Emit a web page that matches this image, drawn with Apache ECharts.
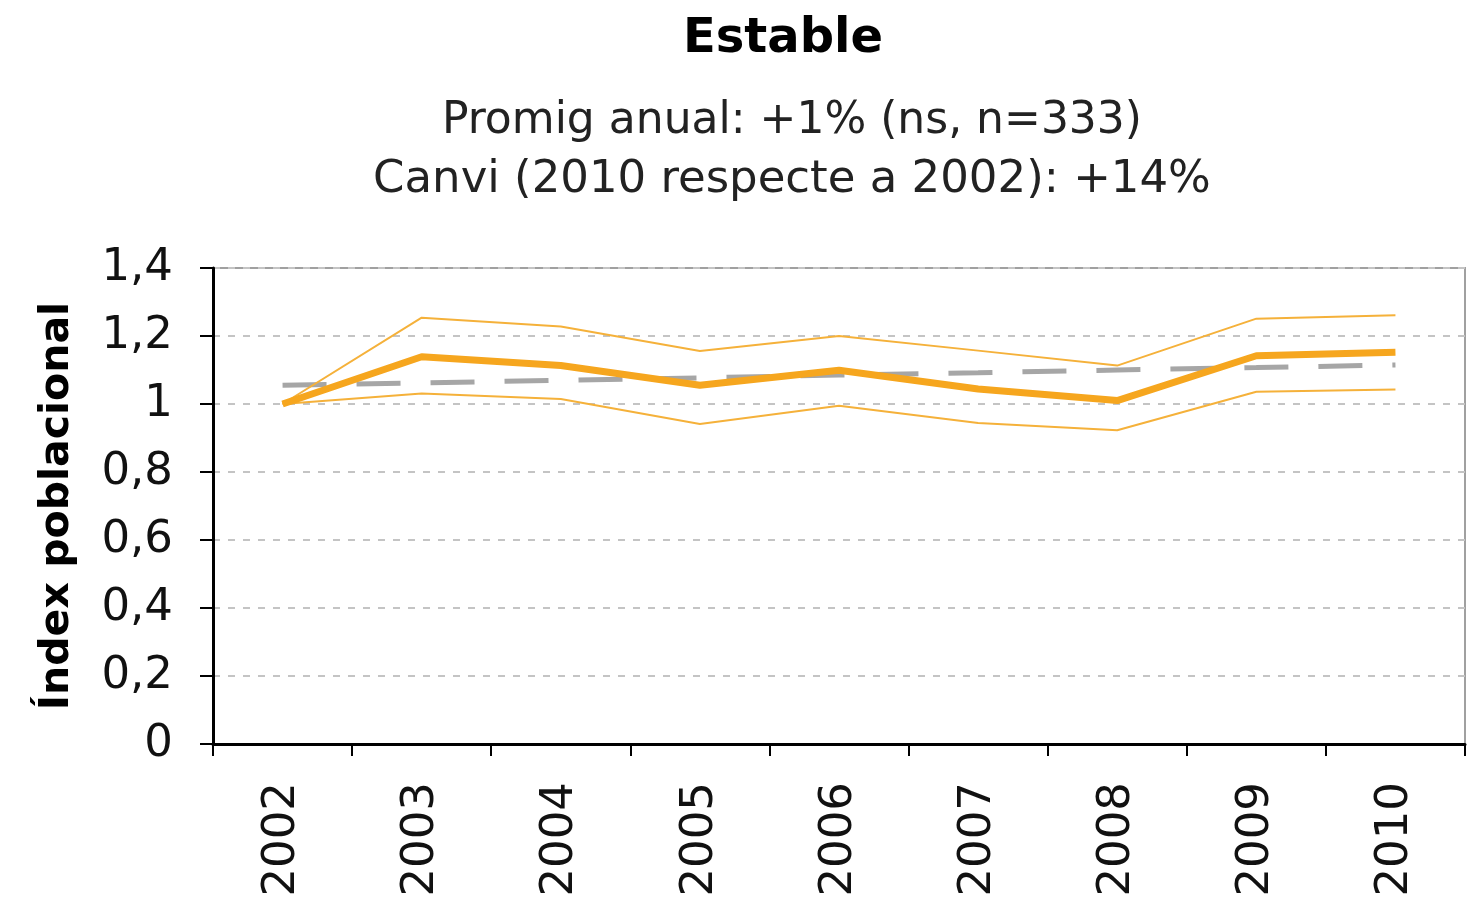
<!DOCTYPE html>
<html lang="ca">
<head>
    <meta charset="UTF-8">
    <title>Estable</title>
    <script src="https://cdn.jsdelivr.net/npm/echarts@6.0.0/dist/echarts.min.js"></script>
    <style>
        html, body { margin: 0; padding: 0; background: #fff; }
        #chart { width: 1478px; height: 906px; }
    </style>
</head>
<body>
<div id="chart"></div>
<script>
    // dades llegides del gràfic
    var years = ['2002', '2003', '2004', '2005', '2006', '2007', '2008', '2009', '2010'];
    var indexValues = [1.0, 1.139, 1.113, 1.055, 1.099, 1.044, 1.01, 1.142, 1.152];
    var upperValues = [1.0, 1.254, 1.228, 1.156, 1.2, 1.157, 1.113, 1.251, 1.261];
    var lowerValues = [1.0, 1.031, 1.015, 0.941, 0.995, 0.944, 0.923, 1.036, 1.043];
    var trendValues = [1.055, 1.062, 1.07, 1.077, 1.085, 1.092, 1.1, 1.107, 1.115];

    var titleText = 'Estable';
    var subLine1 = 'Promig anual: +1% (ns, n=333)';
    var subLine2 = 'Canvi (2010 respecte a 2002): +14%';

    var font = '"DejaVu Sans", Verdana, sans-serif';

    var myChart = echarts.init(document.getElementById('chart'));

    var option = {
        backgroundColor: '#fff',
        animation: false,
        graphic: [
            {
                type: 'text', x: 783, y: 40,
                style: { text: titleText, font: 'bold 48px ' + font, fill: '#000', textAlign: 'center', textVerticalAlign: 'middle' }
            },
            {
                type: 'text', x: 792, y: 122,
                style: { text: subLine1, font: '44px ' + font, fill: '#222', textAlign: 'center', textVerticalAlign: 'middle' }
            },
            {
                type: 'text', x: 792, y: 180,
                style: { text: subLine2, font: '45px ' + font, fill: '#222', textAlign: 'center', textVerticalAlign: 'middle' }
            }
        ],
        grid: {
            left: 213, right: 13, top: 268, bottom: 162,
            show: true, borderColor: '#a0a0a0', borderWidth: 2, backgroundColor: '#fff'
        },
        xAxis: {
            type: 'category',
            data: years,
            boundaryGap: true,
            axisLine: { lineStyle: { color: '#000', width: 3 } },
            axisTick: { show: true, length: 12, lineStyle: { color: '#000', width: 2 } },
            axisLabel: { rotate: 90, margin: 38, fontSize: 45, fontFamily: font, color: '#111' },
            splitLine: { show: false }
        },
        yAxis: {
            type: 'value',
            min: 0, max: 1.4, interval: 0.2,
            name: 'Índex poblacional',
            nameLocation: 'middle',
            nameGap: 135,
            nameTextStyle: { fontSize: 41, fontWeight: 'bold', fontFamily: font, color: '#000' },
            axisLine: { show: true, lineStyle: { color: '#000', width: 3 } },
            axisTick: { show: true, length: 13, lineStyle: { color: '#000', width: 2 } },
            axisLabel: {
                margin: 40, fontSize: 45, fontFamily: font, color: '#111',
                formatter: function (v) { return String(+v.toFixed(1)).replace('.', ','); }
            },
            splitLine: { show: true, lineStyle: { color: '#c4c4c4', width: 2, type: [7, 8] } }
        },
        series: [
            {
                name: 'tendència', type: 'line', data: trendValues, symbol: 'none', z: 2,
                lineStyle: { color: '#a6a6a6', width: 5, type: [44, 30] }
            },
            {
                name: 'superior', type: 'line', data: upperValues, symbol: 'none', z: 3,
                lineStyle: { color: '#f5b13a', width: 2 }
            },
            {
                name: 'inferior', type: 'line', data: lowerValues, symbol: 'none', z: 3,
                lineStyle: { color: '#f5b13a', width: 2 }
            },
            {
                name: 'índex', type: 'line', data: indexValues, symbol: 'none', z: 4,
                lineStyle: { color: '#f6a61e', width: 7 }
            }
        ]
    };
    myChart.setOption(option);
</script>
</body>
</html>
